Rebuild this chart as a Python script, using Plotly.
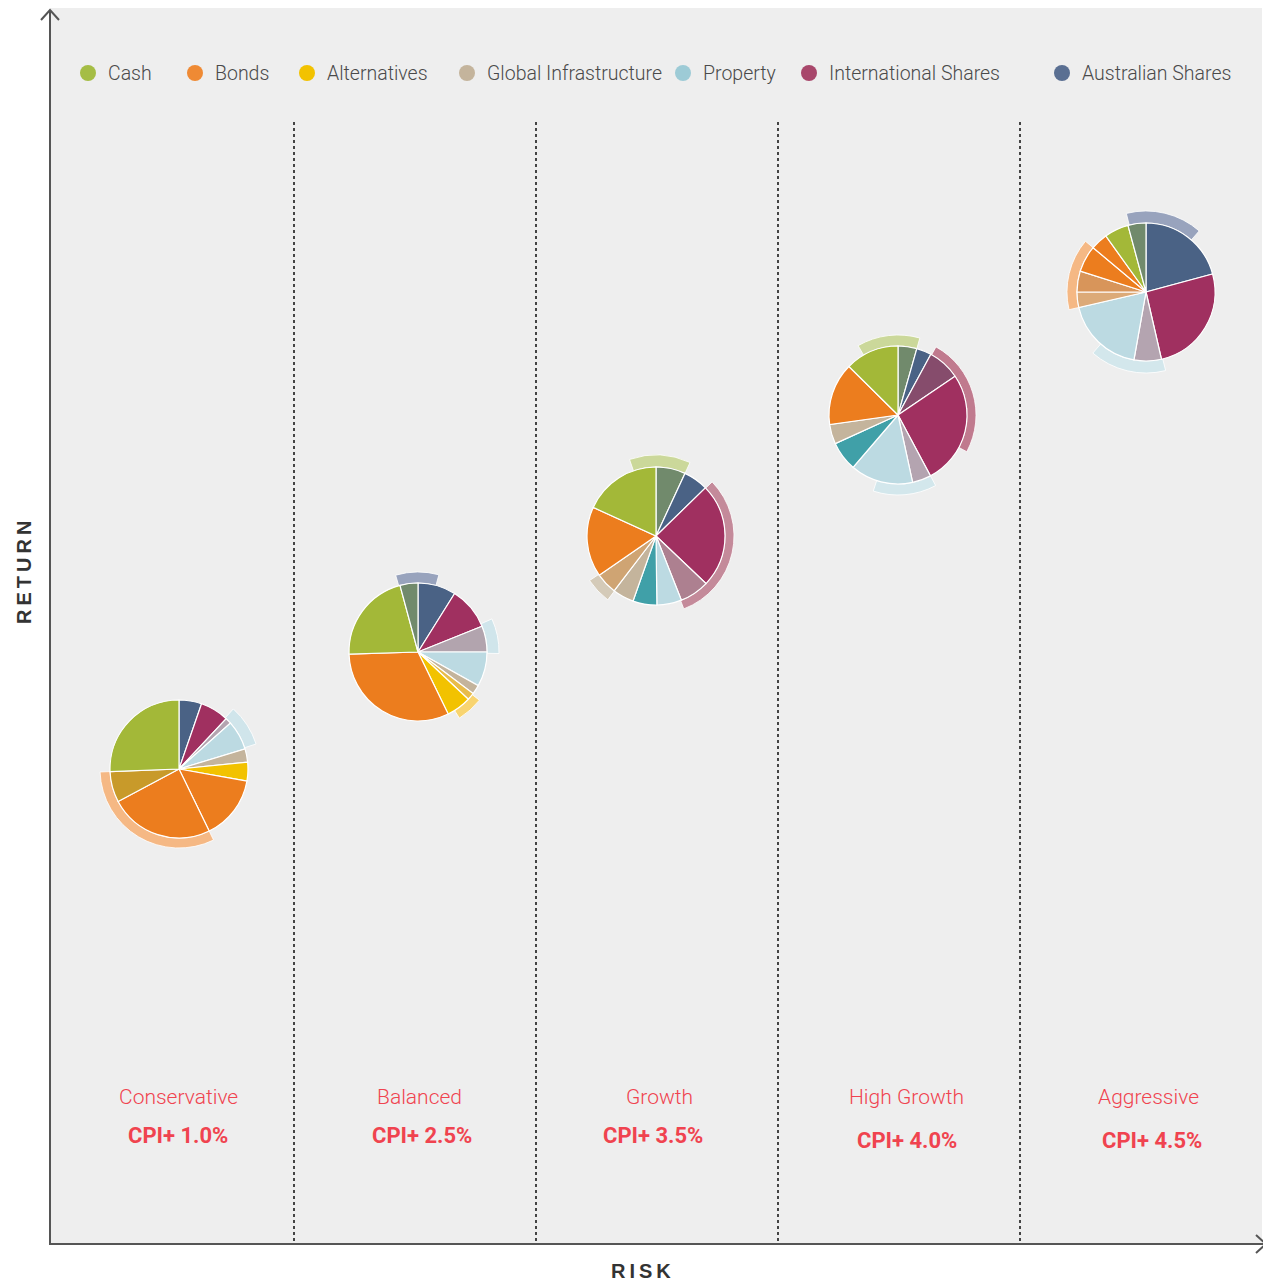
import plotly.graph_objects as go

# ---------------- data ----------------
CATEGORIES = ["Cash", "Bonds", "Alternatives", "Global Infrastructure",
              "Property", "International Shares", "Australian Shares"]
CATEGORY_COLORS = ["#a5bd45", "#ef8a34", "#f2c200", "#c4b49c",
                   "#9dcbd6", "#a8476b", "#5a6f92"]

PORTFOLIOS = ["Conservative", "Balanced", "Growth", "High Growth", "Aggressive"]
TARGETS = ["CPI+ 1.0%", "CPI+ 2.5%", "CPI+ 3.5%", "CPI+ 4.0%", "CPI+ 4.5%"]

# slice shares (% of pie, clockwise from 12 o'clock)
conservative_shares = [5.3, 6.7, 1.4, 6.9, 3.1, 4.4, 15.0, 24.4, 7.2, 25.6]
balanced_shares = [8.9, 10.0, 6.1, 8.1, 2.2, 1.7, 5.8, 31.7, 21.3, 4.2]
growth_shares = [6.9, 5.8, 24.4, 6.9, 5.8, 5.6, 5.0, 5.0, 16.4, 18.2]
high_growth_shares = [4.4, 3.5, 7.6, 26.7, 4.4, 14.7, 6.9, 4.6, 14.6, 12.6]
aggressive_shares = [20.8, 25.6, 6.4, 18.6, 3.6, 4.9, 6.2, 4.0, 5.7, 4.2]

# highlighted outer arcs (start / end in % of pie)
conservative_hl_start = [11.7, 42.8]
conservative_hl_end = [20.0, 74.4]
balanced_hl_start = [18.3, 35.6, 95.5]
balanced_hl_end = [25.3, 41.1, 104.2]
growth_hl_start = [12.8, 60.3, 94.7]
growth_hl_end = [44.2, 65.6, 106.9]
high_growth_hl_start = [8.1, 42.2, 91.7]
high_growth_hl_end = [32.8, 55.0, 104.4]
aggressive_hl_start = [96.1, 46.1, 71.4]
aggressive_hl_end = [111.4, 61.4, 86.1]

# ---------------- styles ----------------
GREEN, ORANGE, YELLOW, TAN = "#a3b838", "#ec7d1e", "#f2c200", "#c4b49c"
PROP, INTL, AUS, OLIVE = "#bcdae2", "#a03060", "#4a6285", "#718a6c"
MAUVE, TEAL = "#b4a4b0", "#40a0a8"

SLICE_COLORS = [
    [AUS, INTL, MAUVE, PROP, TAN, YELLOW, ORANGE, ORANGE, "#c89a2a", GREEN],
    [AUS, INTL, "#b2a4ae", PROP, TAN, "#e8bc4a", YELLOW, ORANGE, GREEN, OLIVE],
    [OLIVE, AUS, INTL, "#ad8090", PROP, TEAL, TAN, "#cfa473", ORANGE, GREEN],
    [OLIVE, AUS, "#864c6c", INTL, MAUVE, PROP, TEAL, TAN, ORANGE, GREEN],
    [AUS, INTL, MAUVE, PROP, "#dcaa78", "#d8955a", ORANGE, ORANGE, GREEN, OLIVE],
]
HL_COLORS = [
    ["#d0e5eb", "#f5b884"],
    ["#d0e5eb", "#f8d470", "#98a3bd"],
    ["#c48a9a", "#d4cab8", "#cbd89a"],
    ["#c07a8e", "#d3e7ec", "#cbd89a"],
    ["#98a3bd", "#d3e7ec", "#f5b884"],
]
HL_OUTER = [[81, 79], [81, 78, 80], [78, 80, 81], [78, 80, 80], [81, 81, 79]]
PIE_CENTERS = [(179, 769), (418, 652), (656, 536), (898, 415), (1146, 292)]
PIE_RADIUS = 69
NAME_POS = [(178, 1097), (419, 1097), (659, 1097), (906, 1097), (1148, 1097)]
TARGET_POS = [(178, 1135), (422, 1135), (653, 1135), (907, 1140), (1152, 1140)]
LEGEND_X = [88, 195, 307, 467, 683, 809, 1062]
LEGEND_Y = 73
DIVIDERS_X = [294, 536, 778, 1020]

# page has an 8px body margin: figure spans screenshot px 8..1271 / 8..1286
OFF = 8
W, H = 1271 - OFF, 1286 - OFF
FONT = "Roboto, 'DejaVu Sans Condensed', sans-serif"
RED = "#f0434f"

SHARES = [conservative_shares, balanced_shares, growth_shares,
          high_growth_shares, aggressive_shares]
HL_START = [conservative_hl_start, balanced_hl_start, growth_hl_start,
            high_growth_hl_start, aggressive_hl_start]
HL_END = [conservative_hl_end, balanced_hl_end, growth_hl_end,
          high_growth_hl_end, aggressive_hl_end]

fig = go.Figure()

# legend markers (cartesian axes in screenshot pixel coordinates)
fig.add_trace(go.Scatter(
    x=LEGEND_X, y=[LEGEND_Y] * len(LEGEND_X), mode="markers",
    marker=dict(size=16, color=CATEGORY_COLORS), hoverinfo="skip",
    showlegend=False))

layout_extra = {}
for i, shares in enumerate(SHARES):
    sub = "polar" if i == 0 else f"polar{i + 1}"
    thetas, widths = [], []
    cum = 0.0
    for s in shares:
        thetas.append((cum + s / 2) * 3.6)
        widths.append(s * 3.6)
        cum += s
    h_theta = [(a + b) / 2 * 3.6 for a, b in zip(HL_START[i], HL_END[i])]
    h_width = [(b - a) * 3.6 for a, b in zip(HL_START[i], HL_END[i])]
    fig.add_trace(go.Barpolar(
        theta=h_theta, width=h_width,
        r=[o - PIE_RADIUS for o in HL_OUTER[i]], base=[PIE_RADIUS] * len(h_theta),
        marker=dict(color=HL_COLORS[i], line=dict(color="white", width=0.8)),
        subplot=sub, showlegend=False, hoverinfo="skip"))
    fig.add_trace(go.Barpolar(
        theta=thetas, width=widths, r=[PIE_RADIUS] * len(shares),
        marker=dict(color=SLICE_COLORS[i], line=dict(color="white", width=1.2)),
        subplot=sub, showlegend=False, hoverinfo="skip"))
    cx, cy = PIE_CENTERS[i]
    cx, cy = cx - OFF, cy - OFF
    half = 90
    layout_extra[sub] = dict(
        domain=dict(x=[(cx - half) / W, (cx + half) / W],
                    y=[1 - (cy + half) / H, 1 - (cy - half) / H]),
        bgcolor="rgba(0,0,0,0)",
        barmode="overlay",
        radialaxis=dict(visible=False, range=[0, half]),
        angularaxis=dict(visible=False, rotation=90, direction="clockwise",
                         showgrid=False, showline=False, showticklabels=False,
                         ticks=""),
    )

shapes = [
    dict(type="rect", x0=50, x1=1262, y0=8, y1=1244, fillcolor="#eeeeee",
         line=dict(width=0), layer="below"),
]
for x in DIVIDERS_X:
    shapes.append(dict(type="line", x0=x, x1=x, y0=122, y1=1244,
                       line=dict(color="#444444", width=2, dash="dot")))
AX = "#555555"
shapes += [
    dict(type="line", x0=50, x1=50, y0=1245, y1=10, line=dict(color=AX, width=2)),
    dict(type="path", path="M 41 20 L 50 10 L 59 20", line=dict(color=AX, width=2)),
    dict(type="line", x0=49, x1=1266, y0=1244, y1=1244, line=dict(color=AX, width=2)),
    dict(type="path", path="M 1256 1235 L 1266 1244 L 1256 1253", line=dict(color=AX, width=2)),
]

annotations = []
for x, name in zip(LEGEND_X, CATEGORIES):
    annotations.append(dict(x=x + 18, y=LEGEND_Y, text=name, showarrow=False,
                            xanchor="left", yanchor="middle",
                            font=dict(family=FONT, size=19.5, color="#4a4a4a",
                                      weight=300)))
for (nx, ny), (tx, ty), name, tgt in zip(NAME_POS, TARGET_POS, PORTFOLIOS, TARGETS):
    annotations.append(dict(x=nx, y=ny, text=name, showarrow=False,
                            xanchor="center", yanchor="middle",
                            font=dict(family=FONT, size=21, color=RED, weight=300)))
    annotations.append(dict(x=tx, y=ty, text=f"<b>{tgt}</b>", showarrow=False,
                            xanchor="center", yanchor="middle",
                            font=dict(family=FONT, size=22, color=RED)))
annotations.append(dict(x=24, y=573, text="<b>R\u2009E\u2009T\u2009U\u2009R\u2009N</b>",
                        showarrow=False, textangle=-90, xanchor="center", yanchor="middle",
                        font=dict(family="Liberation Sans", size=20, color="#333333")))
annotations.append(dict(x=641, y=1271, text="<b>R\u2009I\u2009S\u2009K</b>",
                        showarrow=False, xanchor="center", yanchor="middle",
                        font=dict(family="Liberation Sans", size=20, color="#333333")))

fig.update_layout(
    width=W, height=H, margin=dict(l=0, r=0, t=0, b=0),
    paper_bgcolor="white", plot_bgcolor="rgba(0,0,0,0)",
    xaxis=dict(range=[OFF, 1271], visible=False, domain=[0, 1], fixedrange=True),
    yaxis=dict(range=[1286, OFF], visible=False, domain=[0, 1], fixedrange=True),
    shapes=shapes, annotations=annotations, showlegend=False,
    **layout_extra,
)

fig.write_html("out.html")
